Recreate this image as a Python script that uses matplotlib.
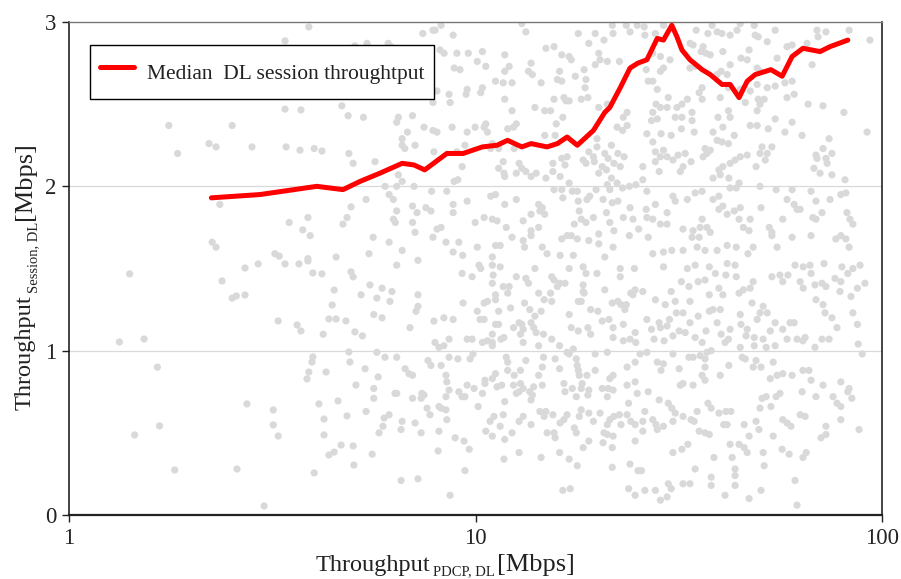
import matplotlib
matplotlib.use("Agg")
import matplotlib.pyplot as plt
from matplotlib.ticker import FixedLocator, FixedFormatter, NullLocator

plt.rcParams['font.family'] = ['Liberation Serif', 'DejaVu Serif']

# ---- scatter samples (PDCP DL throughput [Mbps], session DL throughput [Mbps]) ----
pts_low = [
(3.89,2.97),(3.40,2.885),(5.05,2.855),(3.40,2.47),(3.72,2.465),(4.69,2.49),(4.86,2.43),(1.76,2.37),(2.52,2.37),
(2.21,2.26),(2.30,2.24),(2.82,2.24),(3.42,2.24),(3.70,2.22),(4.01,2.23),(4.19,2.215),(4.88,2.20),(1.85,2.20),
(5.0,2.14),(2.35,1.89),(4.94,1.875),(3.87,1.81),(3.48,1.78),(4.83,1.81),(4.72,1.77),(3.76,1.735),(3.92,1.70),
(2.25,1.66),(2.30,1.63),(3.21,1.59),(3.29,1.575),(3.87,1.56),(4.54,1.57),
(1.41,1.467),(2.38,1.424),(2.71,1.503),(2.92,1.528),(3.40,1.528),(3.68,1.528),(3.87,1.546),(3.98,1.473),(4.19,1.467),
(4.94,1.48),(5.0,1.449),(2.52,1.32),(2.58,1.333),(2.71,1.339),(4.49,1.369),(4.44,1.278),(3.27,1.181),(3.64,1.156),
(3.72,1.12),(4.22,1.10),(4.36,1.193),(4.54,1.193),(4.80,1.181),(5.05,1.114),(1.33,1.053),(1.53,1.071),(4.88,0.992),
(3.98,0.962),(3.96,0.931),(4.91,0.931),(1.65,0.90),(3.89,0.87),(4.29,0.87),(3.85,0.828),(5.08,0.791),(2.74,0.676),
(3.18,0.639),(4.12,0.676),(4.59,0.694),(3.18,0.548),(4.24,0.584),(4.83,0.603),(1.67,0.542),(1.45,0.487),(3.27,0.481),
(4.24,0.487),(4.67,0.426),(4.36,0.365),(4.49,0.383),(5.0,0.42),(5.02,0.304),(1.82,0.274),(2.59,0.28),(4.01,0.256),
(3.02,0.055),
]

pts_mid_upper = [
(8.23,2.98),(13.0,2.99),(13.3,2.94),(7.42,2.93),(7.86,2.95),(7.95,2.95),(8.81,2.92),(17.9,2.93),(19.7,2.93),(21.7,2.98),
(21.8,2.93),(23.5,2.98),(24.0,2.94),(25.0,2.98),(19.0,2.87),(20.7,2.89),(5.41,2.87),(6.1,2.87),(6.2,2.85),(8.18,2.83),
(8.37,2.81),(9.0,2.81),(9.6,2.81),(10.4,2.82),(11.8,2.80),(14.9,2.84),(15.6,2.85),(16.3,2.80),(17.0,2.79),(17.2,2.77),
(20.1,2.81),(20.25,2.77),(21.1,2.76),(22.6,2.76),(10.1,2.76),(10.6,2.73),(11.8,2.70),(12.1,2.73),(13.7,2.75),(8.86,2.72),
(9.16,2.71),(13.5,2.70),(13.8,2.68),(16.1,2.70),(15.9,2.65),(16.3,2.64),(17.6,2.67),(18.5,2.71),(19.7,2.74),(18.7,2.65),
(11.2,2.64),(11.7,2.63),(12.3,2.63),(14.5,2.63),(18.6,2.60),(8.04,2.58),(8.61,2.56),(9.54,2.59),(9.48,2.56),(10.4,2.60),
(10.3,2.57),(11.8,2.53),(15.6,2.53),(16.5,2.54),(16.7,2.52),(17.0,2.52),(18.2,2.53),(18.9,2.54),(20.1,2.48),(21.1,2.50),
(8.66,2.51),(7.86,2.51),(14.0,2.48),(14.8,2.46),(15.3,2.46),(16.4,2.42),(12.3,2.46),(6.46,2.42),(7.0,2.43),(5.3,2.42),
(6.4,2.39),(7.47,2.36),(7.86,2.34),(8.04,2.33),(8.76,2.36),(9.54,2.33),(9.98,2.36),(10.6,2.38),(10.5,2.36),(10.7,2.33),
(12.4,2.36),(12.6,2.38),(12.0,2.35),(15.8,2.38),(14.8,2.31),(15.7,2.31),(19.9,2.29),(23.0,2.34),(22.3,2.36),(23.6,2.37),
(23.1,2.42),(23.6,2.45),(6.8,2.33),(6.6,2.29),(6.6,2.25),(7.1,2.25),(6.7,2.23),(7.9,2.21),(9.0,2.21),(9.42,2.25),
(11.0,2.26),(10.9,2.23),(11.4,2.23),(12.45,2.23),(12.8,2.14),(13.0,2.11),(13.3,2.09),(13.7,2.06),(11.4,2.11),(11.7,2.15),
(11.75,2.08),(11.8,2.06),(12.6,2.08),(14.1,2.08),(16.3,2.17),(15.5,2.14),(16.6,2.13),(15.5,2.09),(16.15,2.06),(14.9,2.05),
(16.8,2.18),(18.4,2.16),(18.7,2.14),(19.0,2.21),(19.5,2.18),(19.6,2.15),(19.9,2.24),(20.5,2.12),(20.8,2.20),(21.2,2.17),
(21.6,2.25),(22.4,2.20),(23.2,2.18),(22.7,2.12),(21.0,2.10),(20.1,2.08),(21.6,2.05),(21.9,2.14),(22.3,2.02),(5.66,2.15),
(6.46,2.07),(6.6,2.03),(5.99,2.00),(6.4,2.00),(7.06,2.00),(7.8,1.97),(8.5,1.97),(8.86,2.03),(9.05,2.04),(9.27,2.12),
(5.38,1.92),(6.13,1.95),(6.28,1.92),(7.0,1.88),(7.55,1.87),(7.77,1.85),(8.81,1.89),(9.54,1.91),(10.9,1.94),(11.2,1.95),
(11.8,1.89),(12.6,1.92),(15.6,1.98),(16.3,1.98),(16.4,1.93),(17.0,2.02),(17.3,1.97),(17.8,1.97),(19.1,1.94),(19.8,1.98),
(21.1,2.01),(21.4,1.98),(23.0,1.99),(23.9,2.00),(24.8,2.01),(17.9,1.91),(18.8,1.92),(20.6,1.92),(21.7,1.90),(22.4,1.91),
(24.0,1.87),(6.4,1.85),(6.28,1.80),(6.35,1.78),(7.18,1.84),(7.0,1.78),(8.81,1.84),(9.98,1.78),(10.5,1.81),(11.0,1.80),
(11.3,1.79),(11.9,1.75),(13.1,1.79),(13.7,1.83),(14.3,1.89),(14.6,1.87),(14.4,1.85),(14.8,1.83),(13.7,1.73),(14.3,1.75),
(18.0,1.85),(18.2,1.80),(18.7,1.78),(17.5,1.77),(17.2,1.70),(19.5,1.81),(21.0,1.84),(21.4,1.78),(23.1,1.81),(24.4,1.80),
(20.1,1.71),(21.9,1.73),(23.9,1.70),(25.2,1.74),(5.6,1.69),(6.13,1.66),(7.1,1.72),(8.04,1.74),(8.23,1.75),(7.86,1.69),
(8.46,1.66),(9.1,1.66),(10.1,1.63),(11.2,1.64),(11.5,1.64),(12.3,1.69),(13.1,1.67),(13.2,1.63),(13.7,1.70),(14.6,1.63),
(16.3,1.68),(16.8,1.70),(17.8,1.68),(19.0,1.67),(20.1,1.65),(21.8,1.63),(5.47,1.59),(6.6,1.61),(8.81,1.60),(9.3,1.58),
(11.0,1.57),(15.0,1.59),(16.15,1.58),(17.4,1.58),(20.8,1.57),
]

pts_mid_lower = [
(6.4,1.52),(7.22,1.55),(9.27,1.47),(9.81,1.45),(10.2,1.52),(10.3,1.50),(11.0,1.52),(11.5,1.51),(11.05,1.46),(11.0,1.41),
(11.7,1.39),(12.1,1.39),(12.0,1.35),(12.6,1.45),(13.3,1.44),(13.5,1.41),(14.0,1.50),(15.4,1.45),(15.6,1.43),(16.1,1.41),
(16.6,1.41),(15.9,1.39),(17.0,1.50),(18.4,1.51),(18.7,1.47),(19.9,1.47),(18.4,1.40),(18.4,1.36),(20.8,1.37),(22.7,1.45),
(22.7,1.50),(24.6,1.50),(24.7,1.37),(24.1,1.35),(5.5,1.40),(5.89,1.38),(6.23,1.36),(5.23,1.34),(5.72,1.32),(6.16,1.30),
(7.22,1.34),(7.22,1.27),(7.14,1.24),(9.32,1.29),(10.1,1.24),(10.5,1.29),(10.7,1.30),(11.2,1.34),(11.2,1.31),(11.4,1.24),
(12.2,1.26),(13.2,1.29),(13.6,1.25),(14.5,1.24),(14.3,1.35),(14.75,1.31),(15.3,1.35),(15.4,1.30),(17.9,1.30),(18.2,1.30),
(18.5,1.35),(19.2,1.25),(20.0,1.24),(21.7,1.29),(22.4,1.30),(22.8,1.28),(23.5,1.28),(23.3,1.25),(24.4,1.34),(17.0,1.22),
(5.62,1.22),(5.89,1.20),(6.9,1.14),(7.9,1.18),(8.36,1.20),(8.81,1.19),(10.26,1.19),(10.5,1.19),(11.2,1.16),(11.4,1.16),
(11.0,1.10),(12.8,1.17),(13.0,1.16),(13.7,1.17),(14.0,1.21),(13.9,1.14),(14.1,1.11),(14.7,1.10),(13.1,1.13),(12.9,1.10),
(12.4,1.14),(17.2,1.14),(17.9,1.12),(18.9,1.14),(19.2,1.10),(20.5,1.18),(21.3,1.19),(21.8,1.14),(21.8,1.08),(23.1,1.16),
(24.0,1.07),(24.7,1.11),(5.27,1.09),(7.95,1.05),(8.13,1.02),(8.36,1.03),(8.61,1.07),(9.54,1.07),(9.81,1.07),(10.4,1.05),
(10.7,1.06),(11.0,1.03),(11.0,1.05),(11.55,1.07),(11.75,1.08),(13.1,1.05),(14.3,1.03),(15.4,1.07),(16.1,1.03),(16.8,0.99),
(17.0,0.98),(17.4,1.01),(19.7,0.98),(21.1,0.99),(23.1,1.06),(24.8,1.05),(5.72,0.99),(5.99,0.96),(6.4,0.96),(6.71,0.89),
(6.86,0.86),(7.0,0.85),(7.64,0.94),(7.77,0.91),(8.23,0.91),(8.61,0.96),(9.05,0.95),(9.70,0.95),(9.86,0.98),(11.9,0.96),
(12.0,0.93),(12.0,0.88),(12.45,0.85),(12.9,0.88),(13.3,0.94),(14.7,0.96),(14.6,0.90),(14.3,0.85),(15.7,0.95),(16.1,0.89),
(17.7,0.95),(17.8,0.91),(17.9,0.88),(18.0,0.85),(18.8,0.85),(18.3,0.80),(19.7,0.88),(21.4,0.83),(21.8,0.85),(23.6,0.90),
(24.7,0.93),(5.35,0.89),(5.76,0.84),(5.62,0.77),(5.62,0.71),(6.34,0.74),(6.4,0.74),(7.0,0.71),(7.35,0.71),(7.47,0.73),
(8.46,0.85),(8.5,0.81),(8.61,0.76),(8.46,0.72),(9.1,0.75),(9.27,0.72),(9.42,0.72),(9.54,0.79),(9.92,0.77),(10.4,0.74),
(10.55,0.82),(10.55,0.80),(11.0,0.83),(11.2,0.86),(11.3,0.78),(11.6,0.79),(12.4,0.79),(12.9,0.80),(13.1,0.77),(12.6,0.74),
(12.8,0.75),(13.6,0.75),(13.8,0.73),(13.7,0.70),(14.6,0.79),(13.9,0.78),(16.5,0.80),(16.6,0.75),(17.3,0.77),(17.7,0.72),
(18.2,0.77),(18.9,0.73),(19.0,0.76),(20.5,0.77),(21.2,0.77),(21.8,0.76),(21.1,0.72),(23.6,0.79),(24.7,0.81),(25.0,0.74),
(23.8,0.68),(5.38,0.63),(5.96,0.59),(6.13,0.61),(5.92,0.54),(5.79,0.50),(6.6,0.57),(6.56,0.52),(7.1,0.56),(7.35,0.50),
(7.38,0.74),(7.6,0.65),(7.73,0.61),(8.13,0.66),(8.23,0.65),(8.46,0.64),(8.5,0.58),(8.13,0.51),(8.09,0.39),(8.91,0.47),
(9.37,0.45),(9.65,0.40),(10.15,0.66),(10.86,0.57),(11.1,0.60),(11.5,0.54),(11.7,0.61),(11.0,0.48),(10.6,0.51),(11.8,0.46),
(12.3,0.50),(11.8,0.69),(13.1,0.60),(12.8,0.57),(13.7,0.55),(14.4,0.63),(14.9,0.63),(14.75,0.60),(15.5,0.61),(15.0,0.50),
(15.6,0.50),(15.7,0.47),(16.15,0.56),(16.5,0.58),(16.8,0.61),(17.5,0.53),(17.7,0.50),(18.0,0.60),(18.2,0.64),(19.0,0.62),
(19.5,0.57),(20.25,0.62),(21.1,0.55),(21.4,0.58),(21.9,0.60),(20.7,0.50),(21.1,0.49),(21.8,0.48),(22.6,0.61),(23.6,0.61),
(24.1,0.57),(24.7,0.55),(22.8,0.55),(24.7,0.45),(19.0,0.45),(18.4,0.41),(20.6,0.44),(21.7,0.41),(5.57,0.37),(12.8,0.38),
(14.5,0.35),(16.1,0.38),(17.0,0.34),(17.8,0.30),(21.7,0.29),(24.0,0.31),(25.1,0.27),(9.42,0.27),(6.56,0.21),(7.22,0.22),
(8.66,0.12),(16.4,0.15),(17.1,0.16),(23.8,0.16),(24.7,0.12),(11.75,0.34),
]

pts_high_upper = [
(26.0,2.97),(27.7,2.93),(26.1,2.92),(29.0,2.98),(34.9,2.95),(37.3,2.93),(38.2,2.98),(39.3,2.94),(40.4,2.93),(42.3,2.92),
(44.8,2.99),(44.0,2.95),(48.5,2.98),(48.75,2.92),(49.6,2.91),(52.2,2.88),(54.6,2.95),(69.2,2.95),(72.8,2.94),(83.0,2.95),
(93.4,2.89),(33.7,2.87),(34.3,2.86),(36.3,2.85),(36.9,2.81),(37.8,2.80),(35.9,2.82),(40.6,2.82),(47.1,2.83),(45.0,2.78),
(46.6,2.77),(42.3,2.74),(40.2,2.70),(41.6,2.68),(39.3,2.68),(33.7,2.72),(34.7,2.73),(30.1,2.77),(28.5,2.79),(27.3,2.81),
(29.0,2.72),(28.5,2.70),(26.3,2.71),(27.3,2.64),(28.0,2.59),(26.6,2.64),(49.3,2.72),(50.1,2.70),(55.2,2.78),(58.4,2.85),
(60.1,2.86),(65.4,2.87),(69.6,2.91),(67.3,2.74),(60.1,2.64),(57.7,2.63),(58.4,2.54),(60.8,2.56),(47.4,2.58),(49.3,2.62),
(52.2,2.60),(54.6,2.61),(40.0,2.54),(41.9,2.60),(44.8,2.59),(46.1,2.51),(49.6,2.53),(51.3,2.53),(50.1,2.50),(49.3,2.46),
(36.1,2.60),(35.5,2.57),(36.1,2.53),(33.2,2.53),(32.2,2.50),(31.3,2.48),(29.8,2.54),(29.6,2.48),(28.5,2.48),(27.8,2.50),
(27.3,2.45),(27.1,2.40),(28.0,2.41),(31.0,2.42),(32.2,2.42),(34.1,2.45),(34.1,2.40),(39.5,2.42),(41.9,2.46),(42.3,2.42),
(40.6,2.36),(38.4,2.33),(39.3,2.28),(40.4,2.27),(41.9,2.26),(43.3,2.31),(47.4,2.37),(49.3,2.37),(52.5,2.35),(54.6,2.41),
(57.7,2.33),(60.1,2.39),(63.6,2.31),(65.8,2.50),(71.6,2.49),(80.6,2.45),(91.9,2.33),(74.1,2.29),(71.6,2.23),(68.8,2.19),
(69.2,2.17),(72.8,2.17),(75.3,2.20),(73.3,2.14),(68.0,2.11),(70.4,2.08),(75.3,2.07),(81.1,2.04),(50.7,2.24),(53.6,2.24),
(50.1,2.20),(52.2,2.20),(51.6,2.16),(49.0,2.12),(46.6,2.19),(44.8,2.18),(43.5,2.16),(42.3,2.14),(39.7,2.10),(40.0,2.07),
(38.4,2.05),(40.6,2.12),(37.8,2.22),(37.1,2.20),(36.3,2.18),(36.7,2.23),(33.9,2.15),(32.4,2.12),(31.9,2.09),(31.5,2.19),
(32.8,2.20),(30.6,2.16),(29.6,2.18),(28.5,2.18),(29.0,2.22),(27.7,2.21),(27.7,2.15),(25.8,2.12),(28.3,2.09),(32.1,2.35),
(30.3,2.31),(28.6,2.32),(27.3,2.27),(26.4,2.32),(34.5,2.33),(42.0,2.05),(44.5,2.02),(43.8,1.99),(42.3,1.99),(39.7,1.94),
(38.4,1.92),(36.1,1.97),(34.7,1.96),(33.2,1.92),(31.0,1.91),(30.6,1.94),(29.6,1.84),(27.7,1.89),(26.4,1.97),(25.8,2.04),
(26.3,1.86),(26.4,1.81),(27.3,1.80),(28.5,1.77),(29.6,1.77),(32.4,1.74),(34.3,1.73),(36.1,1.80),(35.7,1.75),(37.1,1.75),
(34.1,1.69),(35.5,1.69),(37.8,1.72),(39.7,1.86),(40.6,1.88),(41.6,1.83),(43.3,1.85),(44.8,1.87),(44.5,1.80),(45.6,1.75),
(47.4,1.80),(47.1,1.73),(50.4,1.87),(50.1,2.00),(53.6,1.72),(54.9,1.98),(58.4,1.92),(60.1,1.98),(60.8,1.89),(61.8,1.86),
(62.9,1.86),(66.9,1.97),(68.8,1.91),(74.5,1.92),(79.2,1.95),(81.5,1.96),(67.6,1.81),(68.8,1.80),(71.2,1.84),(82.0,1.84),
(83.4,1.80),(84.8,1.77),(77.0,1.68),(79.2,1.70),(81.5,1.68),(83.0,1.63),(66.9,1.70),(57.0,1.80),(53.6,1.70),(52.8,1.75),
(60.1,1.69),(55.2,1.63),(41.6,1.64),(43.8,1.63),(46.8,1.59),(48.2,1.63),(35.1,1.63),(32.4,1.61),(30.4,1.61),(29.0,1.60),
(27.3,1.59),(26.6,1.69),(39.3,1.61),(36.7,1.61),
]

pts_high_lower = [
(29.0,1.51),(34.7,1.52),(33.2,1.50),(37.6,1.51),(38.9,1.47),(41.6,1.53),(43.5,1.52),(43.8,1.45),(41.3,1.46),(32.1,1.42),
(33.5,1.39),(35.3,1.42),(36.7,1.43),(39.7,1.38),(40.6,1.34),(37.6,1.34),(30.3,1.36),(27.7,1.31),(29.3,1.28),(31.0,1.30),
(33.7,1.30),(25.8,1.36),(53.6,1.45),(56.1,1.46),(58.7,1.46),(57.0,1.42),(61.1,1.52),(64.0,1.51),(66.5,1.52),(72.0,1.53),
(66.9,1.47),(62.9,1.42),(64.0,1.38),(68.4,1.40),(71.2,1.41),(72.8,1.39),(76.6,1.44),(79.2,1.42),(79.7,1.51),(82.4,1.47),
(84.8,1.50),(88.3,1.52),(90.8,1.41),(87.0,1.38),(78.8,1.36),(83.9,1.33),(84.8,1.23),(87.0,1.16),(87.4,1.04),(89.4,0.98),
(45.6,1.37),(44.5,1.35),(47.4,1.38),(48.2,1.42),(47.9,1.29),(51.0,1.27),(52.2,1.23),(50.1,1.23),(49.3,1.19),(54.6,1.17),
(53.1,1.12),(51.0,1.07),(48.5,1.08),(46.3,1.09),(46.6,1.13),(44.8,1.22),(45.0,1.16),(42.3,1.13),(40.2,1.10),(41.9,1.07),
(39.3,1.17),(38.4,1.25),(37.6,1.24),(40.0,1.25),(36.9,1.12),(35.3,1.21),(33.7,1.17),(32.4,1.23),(31.2,1.23),(30.0,1.19),
(29.6,1.15),(28.3,1.17),(28.5,1.14),(26.4,1.19),(27.1,1.13),(27.5,1.07),(29.1,1.06),(30.6,1.09),(31.7,1.12),(32.8,1.11),
(34.7,1.08),(36.1,1.05),(41.1,1.05),(44.8,1.02),(48.5,1.03),(51.9,1.02),(54.6,1.03),(59.4,1.17),(60.8,1.17),(58.4,1.07),
(61.8,1.07),(63.9,1.06),(64.7,1.08),(68.4,1.02),(71.2,1.07),(74.1,1.07),(72.4,1.23),(75.3,1.20),(77.5,1.14),(68.8,1.31),
(71.6,1.28),(57.0,1.13),(25.4,0.98),(26.4,0.99),(28.0,0.93),(29.0,0.92),(28.6,0.88),(30.6,0.98),(31.7,0.89),(33.5,0.96),
(34.3,0.96),(35.7,0.97),(36.7,0.95),(38.0,1.00),(37.1,0.99),(36.7,0.90),(40.0,0.85),(42.0,0.91),(45.3,0.96),(46.1,0.95),
(49.0,0.94),(50.4,0.90),(48.2,0.90),(53.1,0.83),(55.2,0.85),(54.0,0.93),(57.0,0.86),(60.1,0.85),(63.9,0.88),(66.1,0.88),
(66.9,0.82),(71.6,0.79),(79.2,0.81),(83.0,0.77),(82.4,0.75),(84.3,0.71),(75.8,0.72),(77.5,0.68),(79.2,0.66),(79.2,0.58),
(72.8,0.54),(72.8,0.49),(70.8,0.47),(87.8,0.52),(68.8,0.72),(63.6,0.75),(64.7,0.60),(62.9,0.61),(59.7,0.54),(58.4,0.56),
(57.0,0.58),(56.1,0.74),(54.9,0.72),(51.9,0.72),(50.7,0.71),(53.3,0.66),(50.1,0.65),(49.0,0.57),(45.8,0.55),(47.1,0.48),
(49.8,0.52),(42.5,0.63),(41.3,0.63),(40.8,0.55),(41.6,0.55),(39.7,0.62),(38.0,0.65),(37.3,0.68),(35.1,0.63),(33.9,0.58),
(34.5,0.57),(32.4,0.60),(31.0,0.62),(30.6,0.57),(30.4,0.65),(29.8,0.68),(28.3,0.70),(26.6,0.75),(26.1,0.63),(25.8,0.57),
(27.3,0.58),(27.8,0.55),(28.0,0.52),(29.0,0.54),(25.8,0.51),(31.9,0.79),(32.4,0.80),(34.3,0.79),(36.1,0.85),(36.7,0.82),
(35.5,0.51),(36.7,0.50),(37.6,0.49),(30.6,0.38),(32.2,0.40),(33.3,0.43),(38.6,0.35),(42.3,0.43),(42.8,0.35),(44.5,0.43),
(45.8,0.41),(46.6,0.38),(51.0,0.38),(51.3,0.30),(54.0,0.48),(56.8,0.40),(59.1,0.37),(63.9,0.35),(65.1,0.38),(61.1,0.21),
(61.8,0.06),(34.7,0.28),(38.0,0.23),(38.0,0.18),(43.5,0.28),(43.5,0.24),(43.5,0.18),(41.1,0.12),(47.1,0.10),(50.4,0.15),
(32.4,0.19),(33.7,0.19),(29.8,0.19),(30.3,0.16),(26.1,0.15),(27.7,0.15),(28.5,0.09),(29.6,0.11),(25.6,0.27),
]

# ---- median curve ----
median_x = [2.24, 2.95, 4.07, 4.72, 5.20, 5.82, 6.6, 7.06, 7.5, 8.5, 9.32, 10.4, 11.3, 11.99, 13.0, 13.7, 15.0,
            15.9, 16.8, 17.8, 19.5, 20.8, 21.4, 22.7, 24.0, 25.1, 26.4, 28.0, 29.0, 30.4, 31.3, 32.2, 33.7,
            36.1, 37.8, 40.4, 42.3, 44.5, 46.6, 48.75, 53.3, 56.8, 60.1, 63.9, 70.4, 74.5, 82.4]
median_y = [1.93, 1.95, 2.00, 1.98, 2.03, 2.08, 2.14, 2.13, 2.10, 2.20, 2.20, 2.24, 2.25, 2.28, 2.24, 2.26, 2.24,
            2.26, 2.30, 2.25, 2.34, 2.45, 2.48, 2.60, 2.72, 2.75, 2.77, 2.90, 2.89, 2.98, 2.91, 2.83, 2.77,
            2.71, 2.68, 2.62, 2.62, 2.54, 2.64, 2.68, 2.71, 2.67, 2.79, 2.84, 2.82, 2.85, 2.89]

legend_label = "Median  DL session throughtput"
x_ticks = [1, 10, 100]
x_tick_labels = ["1", "10", "100"]
y_ticks = [0, 1, 2, 3]
y_tick_labels = ["0", "1", "2", "3"]
label_main = "Throughput"
x_label_sub = "PDCP, DL"
y_label_sub = "Session, DL"
label_unit = "[Mbps]"

all_pts = pts_low + pts_mid_upper + pts_mid_lower + pts_high_upper + pts_high_lower
sx = [p[0] for p in all_pts]
sy = [p[1] for p in all_pts]

W, H = 901, 579
fig = plt.figure(figsize=(W / 100, H / 100), dpi=100)
ax = fig.add_axes([69 / W, 64 / H, 813 / W, 493 / H])

ax.scatter(sx, sy, s=27, color='#d9d9d9', edgecolors='none', zorder=2)
ax.plot(median_x, median_y, color='#ff0000', lw=3.6, solid_joinstyle='round', solid_capstyle='round',
        zorder=3, label=legend_label)

ax.set_xscale('log')
ax.set_xlim(1, 100)
ax.set_ylim(0, 3)
ax.xaxis.set_major_locator(FixedLocator(x_ticks))
ax.xaxis.set_major_formatter(FixedFormatter(x_tick_labels))
ax.xaxis.set_minor_locator(NullLocator())
ax.yaxis.set_major_locator(FixedLocator(y_ticks))
ax.yaxis.set_major_formatter(FixedFormatter(y_tick_labels))

for yv in [1, 2]:
    ax.axhline(yv, color='#d9d9d9', lw=0.9, zorder=1)

ax.tick_params(axis='both', direction='out', length=5, width=1.0, labelsize=16.5, colors='#222222', pad=4)
ax.spines['left'].set_linewidth(1.1)
ax.spines['left'].set_color('#111111')
ax.spines['bottom'].set_linewidth(1.6)
ax.spines['bottom'].set_color('#222222')
ax.spines['right'].set_linewidth(1.1)
ax.spines['right'].set_color('#111111')
ax.spines['top'].set_linewidth(1.0)
ax.spines['top'].set_color('#777777')

leg = ax.legend(loc='upper left', bbox_to_anchor=(21 / 813, 470 / 493), borderaxespad=0,
                fontsize=15.5, frameon=True, fancybox=False, edgecolor='black', framealpha=1,
                handlelength=1.6, handletextpad=0.6, borderpad=0.45, handleheight=2.1)
leg.get_frame().set_linewidth(1.0)
for t in leg.get_texts():
    t.set_color('#222222')

# ---- axis labels with small subscripts ----
fig.canvas.draw()
r = fig.canvas.get_renderer()
tc = '#222222'
main_fs, sub_fs, unit_fs = 17.5, 10.5, 19

# x label
t1 = fig.text(316 / W, (H - 571) / H, label_main, fontsize=main_fs, ha='left', va='baseline', color=tc)
b1 = t1.get_window_extent(r)
t2 = fig.text((b1.x1 + 2) / W, (H - 575.5) / H, x_label_sub, fontsize=sub_fs, ha='left', va='baseline', color=tc)
b2 = t2.get_window_extent(r)
fig.text((b2.x1 + 2) / W, (H - 571) / H, label_unit, fontsize=unit_fs, ha='left', va='baseline', color=tc)

# y label (rotated)
u1 = fig.text(31 / W, (H - 410) / H, label_main, fontsize=main_fs, rotation=90, rotation_mode='anchor',
              ha='left', va='baseline', color=tc)
c1 = u1.get_window_extent(r)
u2 = fig.text(37 / W, (c1.y1 + 2) / H, y_label_sub, fontsize=sub_fs, rotation=90, rotation_mode='anchor',
              ha='left', va='baseline', color=tc)
c2 = u2.get_window_extent(r)
fig.text(31 / W, (c2.y1 + 2) / H, label_unit, fontsize=unit_fs, rotation=90, rotation_mode='anchor',
         ha='left', va='baseline', color=tc)

fig.savefig('out.png', dpi=100)
